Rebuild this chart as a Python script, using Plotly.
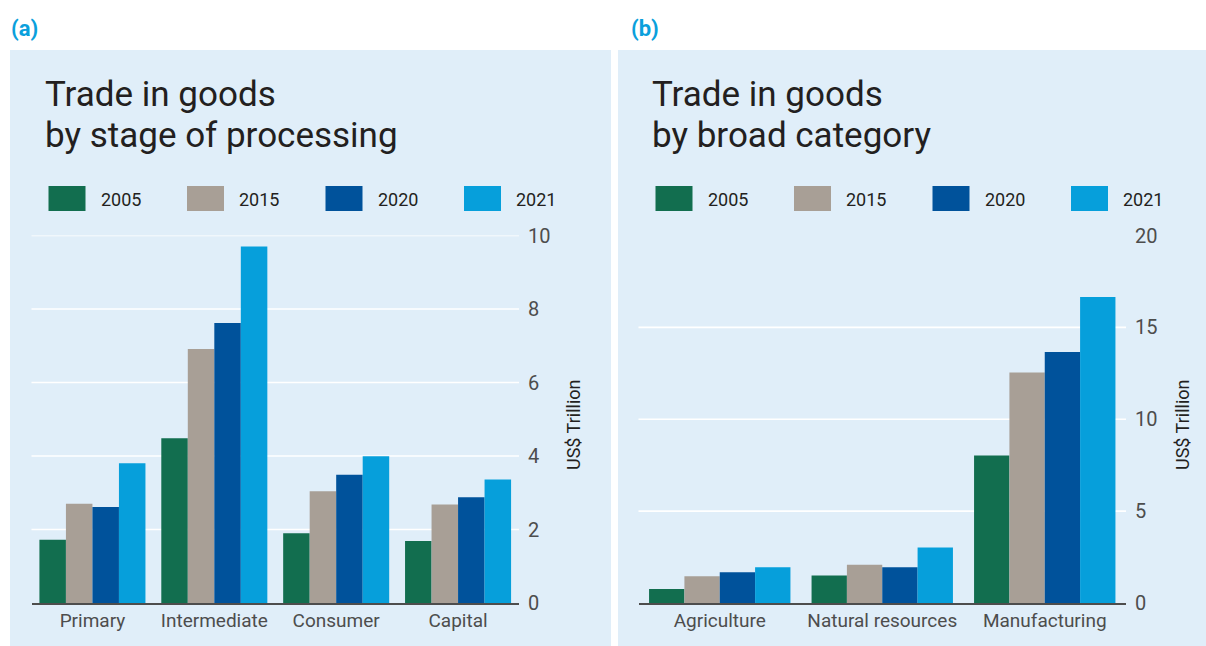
import plotly.graph_objects as go

# ---- data ----
years = ["2005", "2015", "2020", "2021"]
colors = ["#126E4F", "#A89F96", "#00529B", "#069FDB"]

cats_a = ["Primary", "Intermediate", "Consumer", "Capital"]
vals_a_2005 = [1.72, 4.48, 1.90, 1.69]
vals_a_2015 = [2.70, 6.91, 3.04, 2.68]
vals_a_2020 = [2.61, 7.62, 3.49, 2.88]
vals_a_2021 = [3.80, 9.70, 3.99, 3.36]

cats_b = ["Agriculture", "Natural resources", "Manufacturing"]
vals_b_2005 = [0.76, 1.50, 8.03]
vals_b_2015 = [1.45, 2.08, 12.54]
vals_b_2020 = [1.68, 1.94, 13.66]
vals_b_2021 = [1.94, 3.02, 16.65]

ticks_a = [0, 2, 4, 6, 8, 10]
ticks_b = [0, 5, 10, 15, 20]
grid_a = [2, 4, 6, 8, 10]
grid_b = [5, 10, 15]

title_a = ["Trade in goods", "by stage of processing"]
title_b = ["Trade in goods", "by broad category"]
axis_title = "US$ Trillion"

# ---- layout constants ----
W, H = 1206, 646
FONT = "Roboto"
TXT = "#231F20"
GREY = "#4D4D4D"
BG = "#E0EEF9"

def px(x):
    return x / W

def py(y):
    return 1 - y / H

fig = go.Figure()

series_a = [vals_a_2005, vals_a_2015, vals_a_2020, vals_a_2021]
series_b = [vals_b_2005, vals_b_2015, vals_b_2020, vals_b_2021]
for yr, col, va, vb in zip(years, colors, series_a, series_b):
    fig.add_trace(go.Bar(x=cats_a, y=va, name=yr, marker=dict(color=col, line=dict(width=0)),
                         xaxis="x", yaxis="y", showlegend=False))
    fig.add_trace(go.Bar(x=cats_b, y=vb, name=yr, marker=dict(color=col, line=dict(width=0)),
                         xaxis="x2", yaxis="y2", showlegend=False))

ydom = [py(603), py(235.5)]
xdom_a = [px(31.5), px(519)]
xdom_b = [px(638.5), px(1126)]

axis_common_x = dict(type="category", showgrid=False, showline=True, linecolor=GREY, linewidth=1.5,
                     ticks="", tickfont=dict(family=FONT, size=19, color=GREY), fixedrange=True,
                     automargin=False, ticklabelstandoff=0)
axis_common_y = dict(side="right", showgrid=False, zeroline=False, showline=False, ticks="",
                     tickfont=dict(family=FONT, size=20, color=GREY), ticklabelstandoff=8,
                     fixedrange=True, automargin=False)

fig.update_layout(
    width=W, height=H,
    margin=dict(l=0, r=0, t=0, b=0, pad=0, autoexpand=False),
    paper_bgcolor="white",
    plot_bgcolor="rgba(0,0,0,0)",
    barmode="group",
    bargap=0.13,
    bargroupgap=0,
    xaxis=dict(domain=xdom_a, anchor="y", **axis_common_x),
    yaxis=dict(domain=ydom, anchor="x", range=[0, 10], tickvals=ticks_a, **axis_common_y),
    xaxis2=dict(domain=xdom_b, anchor="y2", **axis_common_x),
    yaxis2=dict(domain=ydom, anchor="x2", range=[0, 20], tickvals=ticks_b, **axis_common_y),
)

shapes = []
# panel backgrounds
shapes.append(dict(type="rect", xref="paper", yref="paper", x0=px(10), x1=px(611), y0=0, y1=py(50),
                   fillcolor=BG, line=dict(width=0), layer="below"))
shapes.append(dict(type="rect", xref="paper", yref="paper", x0=px(618), x1=1, y0=0, y1=py(50),
                   fillcolor=BG, line=dict(width=0), layer="below"))
# gridlines
for g in grid_a:
    shapes.append(dict(type="line", xref="x domain", yref="y", x0=0, x1=1, y0=g, y1=g,
                       line=dict(color="white", width=1.6), layer="below"))
for g in grid_b:
    shapes.append(dict(type="line", xref="x2 domain", yref="y2", x0=0, x1=1, y0=g, y1=g,
                       line=dict(color="white", width=1.6), layer="below"))

annotations = []
# panel letters
annotations.append(dict(text="<b>(a)</b>", x=px(9), y=py(28), xref="paper", yref="paper",
                        xanchor="left", yanchor="middle", showarrow=False,
                        font=dict(family=FONT, size=22, color="#0AA0DC")))
annotations.append(dict(text="<b>(b)</b>", x=px(629), y=py(28), xref="paper", yref="paper",
                        xanchor="left", yanchor="middle", showarrow=False,
                        font=dict(family=FONT, size=22, color="#0AA0DC")))

# titles (two lines each)
TS = 35
for tx, lines in [(45, title_a), (652, title_b)]:
    for i, line in enumerate(lines):
        annotations.append(dict(text=line, x=px(tx - 2), y=py(107 + 41 * i), xref="paper", yref="paper",
                                xanchor="left", yanchor="bottom", showarrow=False,
                                yshift=-(0.244 * TS + 1),
                                font=dict(family=FONT, size=TS, color=TXT)))

# legends (manual swatches)
for x_start in (48.5, 655.5):
    for i, (yr, col) in enumerate(zip(years, colors)):
        x0 = x_start + 138.5 * i
        shapes.append(dict(type="rect", xref="paper", yref="paper", x0=px(x0), x1=px(x0 + 37),
                           y0=py(211), y1=py(186), fillcolor=col, line=dict(width=0)))
        annotations.append(dict(text=yr, x=px(x0 + 50), y=py(199), xref="paper", yref="paper",
                                xanchor="left", yanchor="middle", showarrow=False,
                                font=dict(family=FONT, size=18, color=TXT)))

# y-axis titles
for ax_x in (573, 1182):
    annotations.append(dict(text=axis_title, x=px(ax_x), y=py(425), xref="paper", yref="paper",
                            xanchor="center", yanchor="middle", textangle=-90, showarrow=False,
                            font=dict(family=FONT, size=18, color=TXT)))

fig.update_layout(shapes=shapes, annotations=annotations)

fig.write_html("out.html", config={"displayModeBar": False, "staticPlot": True},
               post_script="document.body.style.margin='0';document.body.style.padding='0';")
